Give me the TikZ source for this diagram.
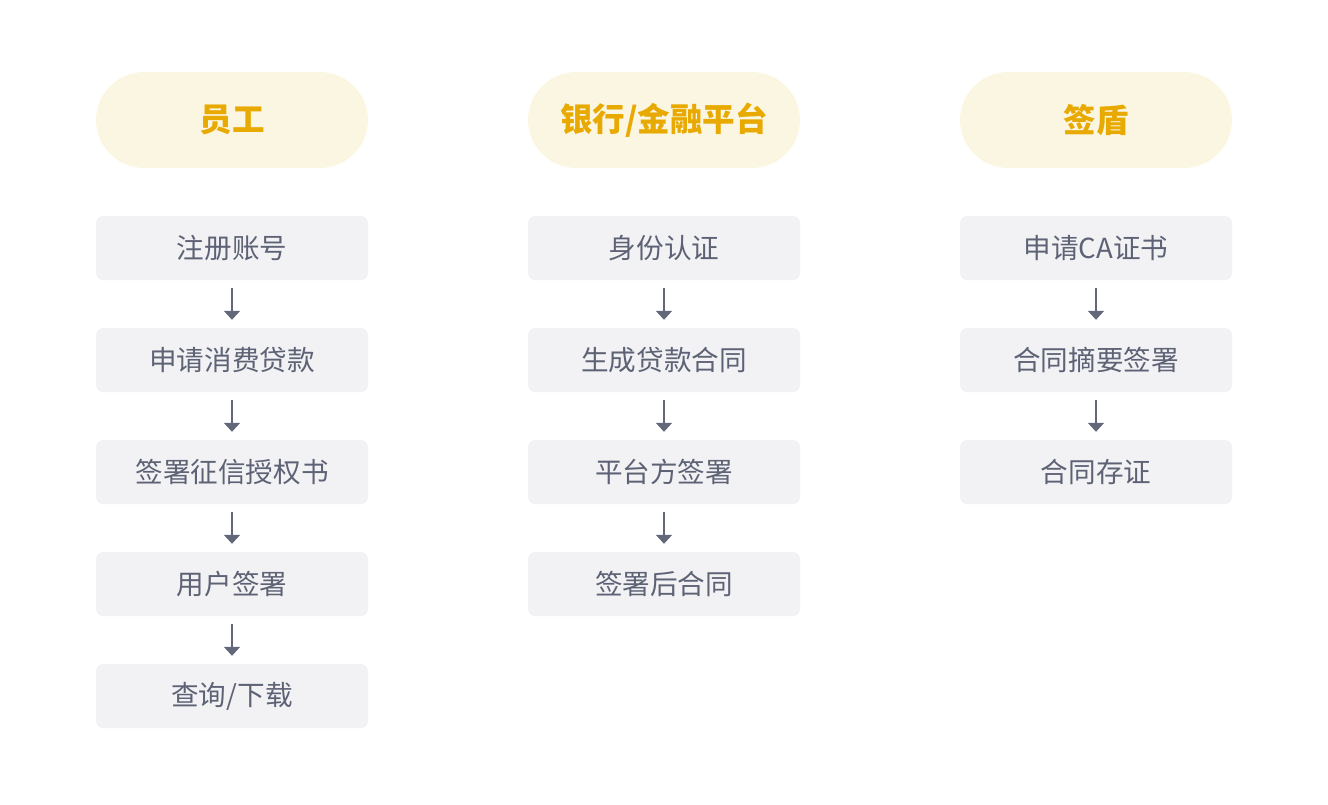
\documentclass[tikz,border=0pt]{standalone}
\usepackage{fontspec}
\newfontfamily\cjk{Noto Sans CJK SC}
\usetikzlibrary{arrows.meta}
\definecolor{pillfill}{HTML}{FBF6E2}
\definecolor{pilltext}{HTML}{E8A900}
\definecolor{boxfill}{HTML}{F2F2F5}
\definecolor{boxtext}{HTML}{5E6275}
\definecolor{arrowc}{HTML}{626779}
\tikzset{
  pill/.style={fill=pillfill, rounded corners=48pt, minimum width=272pt, minimum height=96pt, inner sep=0pt,
    font=\cjk\bfseries\fontsize{32.5pt}{34pt}\selectfont, text=pilltext},
  stepbox/.style={fill=boxfill, rounded corners=7pt, minimum width=272pt, minimum height=64pt, inner sep=0pt,
    font=\cjk\fontsize{27.6pt}{30pt}\selectfont, text=boxtext},
  flow/.style={draw=arrowc, line width=2pt, -{Triangle[length=9pt,width=16pt]}, shorten <=8pt, shorten >=8pt}
}
\begin{document}
\begin{tikzpicture}[x=1pt,y=-1pt]
\useasboundingbox (0,0) rectangle (1328,804);
% headers
\node[pill] (h1) at (232,120) {员工};
\node[pill] (h2) at (664,120) {银行/金融平台};
\node[pill] (h3) at (1096,120) {签盾};
% column 1
\node[stepbox] (a1) at (232,248) {注册账号};
\node[stepbox] (a2) at (232,360) {申请消费贷款};
\node[stepbox] (a3) at (232,472) {签署征信授权书};
\node[stepbox] (a4) at (232,584) {用户签署};
\node[stepbox] (a5) at (232,696) {查询/下载};
% column 2
\node[stepbox] (b1) at (664,248) {身份认证};
\node[stepbox] (b2) at (664,360) {生成贷款合同};
\node[stepbox] (b3) at (664,472) {平台方签署};
\node[stepbox] (b4) at (664,584) {签署后合同};
% column 3
\node[stepbox] (c1) at (1096,248) {申请CA证书};
\node[stepbox] (c2) at (1096,360) {合同摘要签署};
\node[stepbox] (c3) at (1096,472) {合同存证};
% arrows
\draw[flow] (a1) -- (a2);
\draw[flow] (a2) -- (a3);
\draw[flow] (a3) -- (a4);
\draw[flow] (a4) -- (a5);
\draw[flow] (b1) -- (b2);
\draw[flow] (b2) -- (b3);
\draw[flow] (b3) -- (b4);
\draw[flow] (c1) -- (c2);
\draw[flow] (c2) -- (c3);
\end{tikzpicture}
\end{document}
